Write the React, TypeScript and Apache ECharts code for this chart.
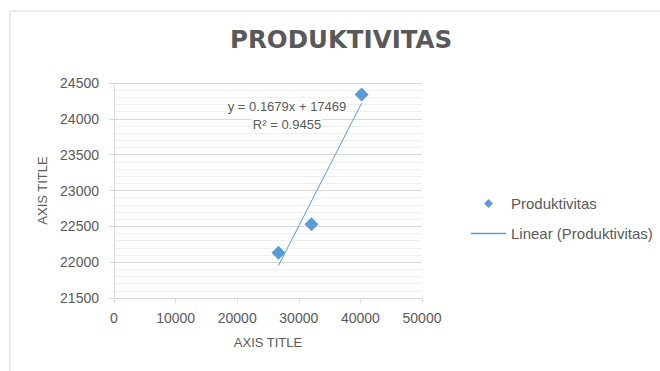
import React, { useEffect, useRef } from "react";
import * as echarts from "echarts";

// Data
const seriesName = "Produktivitas";
const trendName = "Linear (Produktivitas)";
const xValues = [26700, 32050, 40200];
const yValues = [22130, 22530, 24340];
// Trendline equation as displayed in the chart
const slope = 0.1679;
const intercept = 17469;
const rSquared = 0.9455;

const xAxisMin = 0;
const xAxisMax = 50000;
const xAxisInterval = 10000;
const yAxisMin = 21500;
const yAxisMax = 24500;
const yAxisInterval = 500;

const FONT = "Liberation Sans";
const TEXT = "#595959";
const BLUE = "#5B9BD5";

export default function App() {
  const ref = useRef<HTMLDivElement>(null);

  useEffect(() => {
    if (!ref.current) return;
    const chart = echarts.init(ref.current, null, { renderer: "svg" });

    const points = xValues.map((x, i) => [x, yValues[i]]);
    const xMin = Math.min(...xValues);
    const xMax = Math.max(...xValues);
    const trend = [
      [xMin, slope * xMin + intercept],
      [xMax, slope * xMax + intercept],
    ];

    chart.setOption({
      animation: false,
      backgroundColor: "#ffffff",
      title: {
        text: "PRODUKTIVITAS",
        left: 230,
        top: 27,
        padding: 0,
        textStyle: {
          fontFamily: "DejaVu Sans",
          fontWeight: "bold",
          fontSize: 24.5,
          color: TEXT,
        },
      },
      graphic: [
        {
          type: "rect",
          shape: { x: 10, y: 11, width: 700, height: 400 },
          style: { fill: "none", stroke: "#d9d9d9", lineWidth: 1 },
          silent: true,
        },
        {
          type: "text",
          x: 287,
          y: 106,
          z: 1,
          style: {
            text: `y = ${slope}x + ${intercept}`,
            align: "center",
            verticalAlign: "middle",
            fontFamily: FONT,
            fontSize: 13,
            lineHeight: 13,
            fill: TEXT,
            backgroundColor: "#ffffff",
            padding: [1, 1],
          },
          silent: true,
        },
        {
          type: "text",
          x: 287,
          y: 124,
          z: 1,
          style: {
            text: `R² = ${rSquared}`,
            align: "center",
            verticalAlign: "middle",
            fontFamily: FONT,
            fontSize: 13,
            lineHeight: 10,
            fill: TEXT,
            backgroundColor: "#ffffff",
            padding: [0, 1],
          },
          silent: true,
        },
      ],
      legend: {
        orient: "vertical",
        left: 471,
        top: 196,
        padding: 0,
        itemWidth: 35,
        itemHeight: 9,
        itemGap: 15,
        symbolKeepAspect: true,
        textStyle: { fontFamily: FONT, fontSize: 15, color: TEXT },
        data: [
          {
            name: seriesName,
            icon: "path://M0,-1 L1,0 L0,1 L-1,0 Z",
            itemStyle: { color: BLUE, opacity: 1 },
          },
          {
            name: trendName,
            icon: "path://M0,0 L35,0 L35,1.4 L0,1.4 Z",
            itemStyle: { color: BLUE, opacity: 1 },
          },
        ],
      },
      grid: { left: 114, right: 238, top: 83, bottom: 73 },
      xAxis: {
        type: "value",
        min: xAxisMin,
        max: xAxisMax,
        interval: xAxisInterval,
        name: "AXIS TITLE",
        nameLocation: "middle",
        nameGap: 38,
        nameTextStyle: { fontFamily: FONT, fontSize: 13, color: TEXT },
        axisLine: { show: true, lineStyle: { color: "#d9d9d9" } },
        axisTick: { show: true, length: 5, lineStyle: { color: "#d9d9d9" } },
        axisLabel: {
          fontFamily: FONT,
          fontSize: 14,
          color: TEXT,
          margin: 13,
          formatter: (v: number) => String(v),
        },
        splitLine: { show: false },
      },
      yAxis: {
        type: "value",
        min: yAxisMin,
        max: yAxisMax,
        interval: yAxisInterval,
        name: "AXIS TITLE",
        nameLocation: "middle",
        nameGap: 65,
        nameRotate: 90,
        nameTextStyle: { fontFamily: FONT, fontSize: 13, color: TEXT },
        axisLine: { show: true, lineStyle: { color: "#d9d9d9" } },
        axisTick: { show: true, length: 5, lineStyle: { color: "#d9d9d9" } },
        axisLabel: {
          fontFamily: FONT,
          fontSize: 14,
          color: TEXT,
          margin: 15,
          formatter: (v: number) => String(v),
        },
        splitLine: { show: true, lineStyle: { color: "#d9d9d9" } },
        minorTick: { show: false, splitNumber: 5 },
        minorSplitLine: { show: true, lineStyle: { color: "#eeeeee" } },
      },
      series: [
        {
          name: seriesName,
          type: "scatter",
          symbol: "diamond",
          symbolSize: 14,
          itemStyle: { color: BLUE, opacity: 1 },
          data: points,
          z: 3,
        },
        {
          name: trendName,
          type: "line",
          symbol: "none",
          showSymbol: false,
          lineStyle: { color: BLUE, width: 1 },
          itemStyle: { color: BLUE },
          data: trend,
          z: 2,
        },
      ],
    });

    return () => chart.dispose();
  }, []);

  return (
    <div
      ref={ref}
      style={{ position: "fixed", left: 0, top: 0, width: 660, height: 371 }}
    />
  );
}
